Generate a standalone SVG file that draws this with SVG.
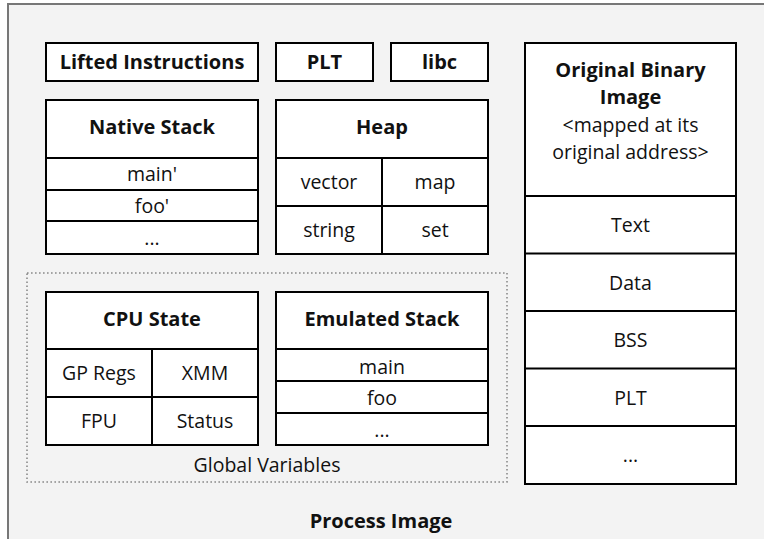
<svg xmlns="http://www.w3.org/2000/svg" width="764" height="539" viewBox="0 0 764 539">
  <style>
    .box { fill: #ffffff; stroke: #000000; stroke-width: 2; }
    .sep { stroke: #000000; stroke-width: 2; fill: none; }
    .t { font-family: "Open Sans", Lato, sans-serif; font-size: 19.5px; fill: #111111; text-anchor: middle; }
    .b { font-weight: bold; font-size: 20px; }
  </style>
  <!-- process image frame -->
  <rect x="8" y="4" width="770" height="560" fill="#f3f3f3" stroke="#777777" stroke-width="2"/>
  <!-- global variables region -->
  <rect x="27" y="273" width="480" height="209" fill="none" stroke="#8a8a8a" stroke-width="1.6" stroke-dasharray="1.6 2.4"/>
  <text class="t" x="267" y="472">Global Variables</text>
  <text class="t b" x="381" y="528">Process Image</text>

  <g id="lifted-instructions">
    <rect class="box" x="46" y="43" width="212" height="38"/>
    <text class="t b" x="152" y="69">Lifted Instructions</text>
  </g>
  <g id="plt">
    <rect class="box" x="276" y="43" width="97" height="38"/>
    <text class="t b" x="324.5" y="69">PLT</text>
  </g>
  <g id="libc">
    <rect class="box" x="391" y="43" width="97" height="38"/>
    <text class="t b" x="439.5" y="69">libc</text>
  </g>

  <g id="native-stack">
    <rect class="box" x="46" y="100" width="212" height="154"/>
    <path class="sep" d="M46 158H258M46 190H258M46 221H258"/>
    <text class="t b" x="152" y="134">Native Stack</text>
    <text class="t" x="152" y="181">main'</text>
    <text class="t" x="152" y="213">foo'</text>
    <text class="t" x="152" y="245">...</text>
  </g>

  <g id="heap">
    <rect class="box" x="276" y="100" width="212" height="154"/>
    <path class="sep" d="M276 158H488M276 206H488M382 158V254"/>
    <text class="t b" x="382" y="134">Heap</text>
    <text class="t" x="329" y="189">vector</text>
    <text class="t" x="435" y="189">map</text>
    <text class="t" x="329" y="237">string</text>
    <text class="t" x="435" y="237">set</text>
  </g>

  <g id="cpu-state">
    <rect class="box" x="46" y="292" width="212" height="153"/>
    <path class="sep" d="M46 349H258M46 397H258M152 349V445"/>
    <text class="t b" x="152" y="326">CPU State</text>
    <text class="t" x="99" y="380">GP Regs</text>
    <text class="t" x="205" y="380">XMM</text>
    <text class="t" x="99" y="428">FPU</text>
    <text class="t" x="205" y="428">Status</text>
  </g>

  <g id="emulated-stack">
    <rect class="box" x="276" y="292" width="212" height="153"/>
    <path class="sep" d="M276 349H488M276 381H488M276 413H488"/>
    <text class="t b" x="382" y="326">Emulated Stack</text>
    <text class="t" x="382" y="374">main</text>
    <text class="t" x="382" y="405">foo</text>
    <text class="t" x="382" y="437">...</text>
  </g>

  <g id="original-binary-image">
    <rect class="box" x="525" y="43" width="211" height="441"/>
    <path class="sep" d="M525 196H736M525 253.5H736M525 311H736M525 368.5H736M525 426H736"/>
    <text class="t b" x="630.5" y="77">Original Binary</text>
    <text class="t b" x="630.5" y="104">Image</text>
    <text class="t" x="630.5" y="132">&lt;mapped at its</text>
    <text class="t" x="630.5" y="159">original address&gt;</text>
    <text class="t" x="630.5" y="232">Text</text>
    <text class="t" x="630.5" y="290">Data</text>
    <text class="t" x="630.5" y="347">BSS</text>
    <text class="t" x="630.5" y="405">PLT</text>
    <text class="t" x="630.5" y="462">...</text>
  </g>
</svg>
